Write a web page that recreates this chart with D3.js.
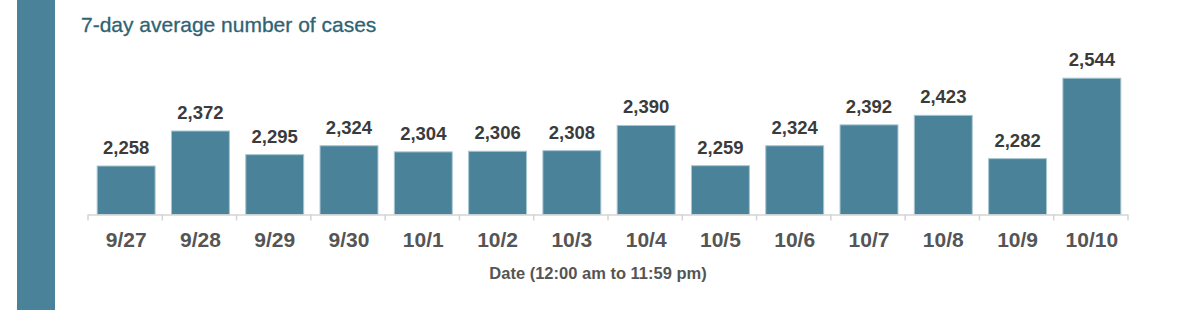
<!DOCTYPE html>
<html><head><meta charset="utf-8">
<script src="https://cdn.jsdelivr.net/npm/d3@7"></script>
<style>html,body{margin:0;padding:0;background:#fff;overflow:hidden}</style>
</head><body>
<svg id="chart" width="1200" height="310"></svg>
<script>
const categories = ["9/27","9/28","9/29","9/30","10/1","10/2","10/3","10/4","10/5","10/6","10/7","10/8","10/9","10/10"];
const values = [2258,2372,2295,2324,2304,2306,2308,2390,2259,2324,2392,2423,2282,2544];
const title = "7-day average number of cases";
const xTitle = "Date (12:00 am to 11:59 pm)";

const svg = d3.select("#chart");
const teal = "#4a8399";

svg.append("rect").attr("x",17).attr("y",0).attr("width",38).attr("height",310).attr("fill",teal);

svg.append("text").attr("x",81).attr("y",32).text(title)
  .attr("font-family","Liberation Sans, Arial, sans-serif").attr("font-size",21)
  .attr("fill","#2f6374").attr("stroke","#2f6374").attr("stroke-width",0.3);

const baseY = 214.5;
const x = d3.scaleBand().domain(categories).range([88,1128]).paddingInner(0.22).paddingOuter(0.11);
const y = d3.scaleLinear().domain([2100,2600]).range([baseY, baseY - 500*0.307]);

svg.selectAll("rect.bar").data(values).join("rect").attr("class","bar")
  .attr("x",(d,i)=>x(categories[i])+1)
  .attr("width",x.bandwidth())
  .attr("y",d=>y(d))
  .attr("height",d=>baseY-y(d))
  .attr("fill",teal).attr("stroke","#a8c6d0").attr("stroke-width",1);

svg.selectAll("text.val").data(values).join("text").attr("class","val")
  .attr("x",(d,i)=>x(categories[i])+x.bandwidth()/2+1)
  .attr("y",d=>y(d)-12)
  .attr("text-anchor","middle")
  .attr("font-family","Liberation Sans, Arial, sans-serif").attr("font-weight","bold")
  .attr("font-size",18.5).attr("fill","#3b3b3b")
  .text(d=>d3.format(",")(d));

// axis
const g = svg.append("g");
g.append("line").attr("x1",88).attr("x2",1128).attr("y1",baseY+0.5).attr("y2",baseY+0.5)
  .attr("stroke","#d4d4d4").attr("stroke-width",1.5);
const bounds = d3.range(categories.length+1).map(i=>88+i*x.step());
g.selectAll("line.tick").data(bounds).join("line").attr("class","tick")
  .attr("x1",d=>d).attr("x2",d=>d).attr("y1",baseY).attr("y2",baseY+6)
  .attr("stroke","#d4d4d4").attr("stroke-width",1.5);

svg.selectAll("text.cat").data(categories).join("text").attr("class","cat")
  .attr("x",d=>x(d)+x.bandwidth()/2+1).attr("y",247)
  .attr("text-anchor","middle")
  .attr("font-family","Liberation Sans, Arial, sans-serif").attr("font-weight","bold")
  .attr("font-size",21).attr("fill","#555")
  .text(d=>d);

svg.append("text").attr("x",(88+1128)/2-10).attr("y",279).attr("text-anchor","middle")
  .attr("font-family","Liberation Sans, Arial, sans-serif").attr("font-weight","bold")
  .attr("font-size",16.5).attr("fill","#555").text(xTitle);
</script>
</body></html>
